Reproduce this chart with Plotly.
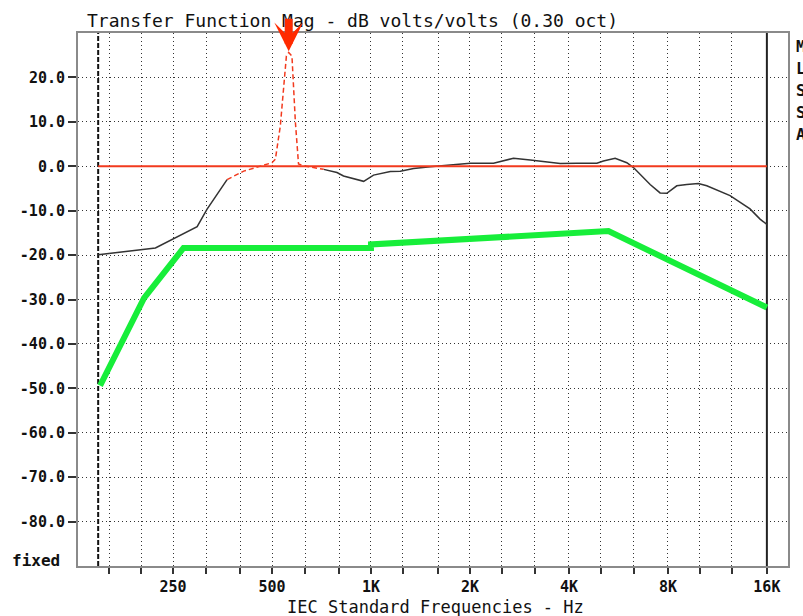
import math
import plotly.graph_objects as go

# ---------------- data ----------------
# measured transfer function, black solid part (low end)
freq_low = [148, 221, 296, 317, 365]
db_low = [-19.9, -18.4, -13.6, -9.7, -3.0]

# highlighted (red dashed) section around the resonance
freq_mid = [365, 410, 500, 512, 530, 553, 562, 575, 589, 602, 624, 718]
db_mid = [-3.0, -1.1, 0.8, 1.6, 9.1, 24.8, 25.6, 24.8, 9.9, 0.5, 0.1, -0.7]

# measured transfer function, black solid part (high end)
freq_high = [718, 788, 825, 950, 1018, 1145, 1228, 1348, 1514, 1742, 2004,
             2359, 2502, 2713, 3050, 3763, 4229, 4864, 5093, 5528, 6000,
             6285, 7064, 7573, 7938, 8512, 9131, 9902, 10503, 12363, 14219,
             15252, 16000]
db_high = [-0.7, -1.4, -2.2, -3.4, -2.0, -1.2, -1.1, -0.5, -0.1, 0.3, 0.7,
           0.7, 1.2, 1.8, 1.4, 0.6, 0.7, 0.7, 1.2, 1.8, 0.8,
           -0.3, -4.1, -6.0, -6.1, -4.4, -4.1, -3.9, -4.4, -6.6, -9.6,
           -11.9, -13.1]

# green target curve
freq_green = [150, 204, 269, 1000, 1000, 5275, 16000]
db_green = [-49.4, -29.7, -18.4, -18.4, -17.6, -14.6, -31.8]

# 0 dB reference line
freq_ref = [148, 16000]
db_ref = [0, 0]

# cursor / end-of-range markers
cursor_freq = 148
end_freq = 16000
peak_freq = 562
peak_db = 25.9

# axes
x_tick_vals = [160, 200, 250, 315, 400, 500, 630, 800, 1000, 1250, 1600,
               2000, 2500, 3150, 4000, 5000, 6300, 8000, 10000, 12500, 16000]
x_tick_text = ["", "", "250", "", "", "500", "", "", "1K", "", "",
               "2K", "", "", "4K", "", "", "8K", "", "", "16K"]
y_tick_vals = [20, 10, 0, -10, -20, -30, -40, -50, -60, -70, -80]
y_tick_text = ["20.0", "10.0", "0.0", "-10.0", "-20.0", "-30.0", "-40.0",
               "-50.0", "-60.0", "-70.0", "-80.0"]
side_letters = ["M", "L", "S", "S", "A"]

# ---------------- figure ----------------
MONO = "DejaVu Sans Mono"
fig = go.Figure()

fig.add_trace(go.Scatter(x=[cursor_freq, cursor_freq], y=[-90, 30], mode="lines",
                         line=dict(color="#111111", width=2, dash="5px,2px"),
                         hoverinfo="skip", showlegend=False))
fig.add_trace(go.Scatter(x=[end_freq, end_freq], y=[-90, 30], mode="lines",
                         line=dict(color="#222222", width=2),
                         hoverinfo="skip", showlegend=False))

fig.add_trace(go.Scatter(x=freq_low, y=db_low, mode="lines",
                         line=dict(color="#333333", width=1.5), showlegend=False))
fig.add_trace(go.Scatter(x=freq_high, y=db_high, mode="lines",
                         line=dict(color="#333333", width=1.5), showlegend=False))
fig.add_trace(go.Scatter(x=freq_ref, y=db_ref, mode="lines",
                         line=dict(color="#f23a1e", width=2), showlegend=False))
fig.add_trace(go.Scatter(x=freq_mid, y=db_mid, mode="lines",
                         line=dict(color="#f23a1e", width=1.5, dash="5px,3px"),
                         showlegend=False))
fig.add_trace(go.Scatter(x=freq_green, y=db_green, mode="lines",
                         line=dict(color="#17ee3a", width=6), showlegend=False))

annotations = [
    dict(text="Transfer Function Mag - dB volts/volts (0.30 oct)",
         xref="paper", yref="paper", x=0.01, y=1.024, xanchor="left",
         yanchor="middle", showarrow=False,
         font=dict(family=MONO, size=18, color="#111111")),
    dict(text="IEC Standard Frequencies - Hz",
         xref="paper", yref="paper", x=0.504, y=-0.077, xanchor="center",
         yanchor="middle", showarrow=False,
         font=dict(family=MONO, size=17, color="#111111")),
    dict(text="fixed", xref="paper", yref="paper", x=-0.059, y=0.01,
         xanchor="center", yanchor="middle", showarrow=False,
         font=dict(family=MONO, size=16, color="#111111", weight="bold")),
    dict(x=math.log10(peak_freq), y=peak_db, xref="x", yref="y",
         ax=0, ay=-34, showarrow=True, arrowhead=3, arrowsize=0.6,
         arrowwidth=8, arrowcolor="#ff2a00", text=""),
]
for i, letter in enumerate(side_letters):
    annotations.append(dict(text=letter, xref="paper", yref="paper",
                            x=1.0085, y=0.974 - i * 0.0413, xanchor="left",
                            yanchor="middle", showarrow=False,
                            font=dict(family=MONO, size=16, color="#111111",
                                      weight="bold")))

fig.update_layout(
    width=803, height=616,
    margin=dict(l=78, r=15, t=33, b=50),
    paper_bgcolor="white", plot_bgcolor="white",
    showlegend=False,
    annotations=annotations,
    xaxis=dict(type="log", range=[math.log10(128.5), math.log10(18550)],
               tickvals=x_tick_vals, ticktext=x_tick_text,
               ticks="outside", ticklen=6, tickwidth=2, tickcolor="#333333",
               showgrid=True, gridcolor="#333333", gridwidth=1,
               griddash="1px,3px",
               showline=True, mirror=True, linecolor="#8a8a8a", linewidth=2,
               tickfont=dict(family=MONO, size=15, color="#111111", weight="bold"),
               zeroline=False, automargin=False),
    yaxis=dict(range=[-90, 30], tickvals=y_tick_vals, ticktext=y_tick_text,
               ticks="outside", ticklen=8, tickwidth=2, tickcolor="#333333",
               showgrid=True, gridcolor="#333333", gridwidth=1,
               griddash="1px,3px",
               showline=True, mirror=True, linecolor="#8a8a8a", linewidth=2,
               tickfont=dict(family=MONO, size=15, color="#111111", weight="bold"),
               zeroline=False, automargin=False),
)

fig.write_html("out.html", config={"displayModeBar": False},
               post_script="document.body.style.margin='0';document.body.style.overflow='hidden';")
